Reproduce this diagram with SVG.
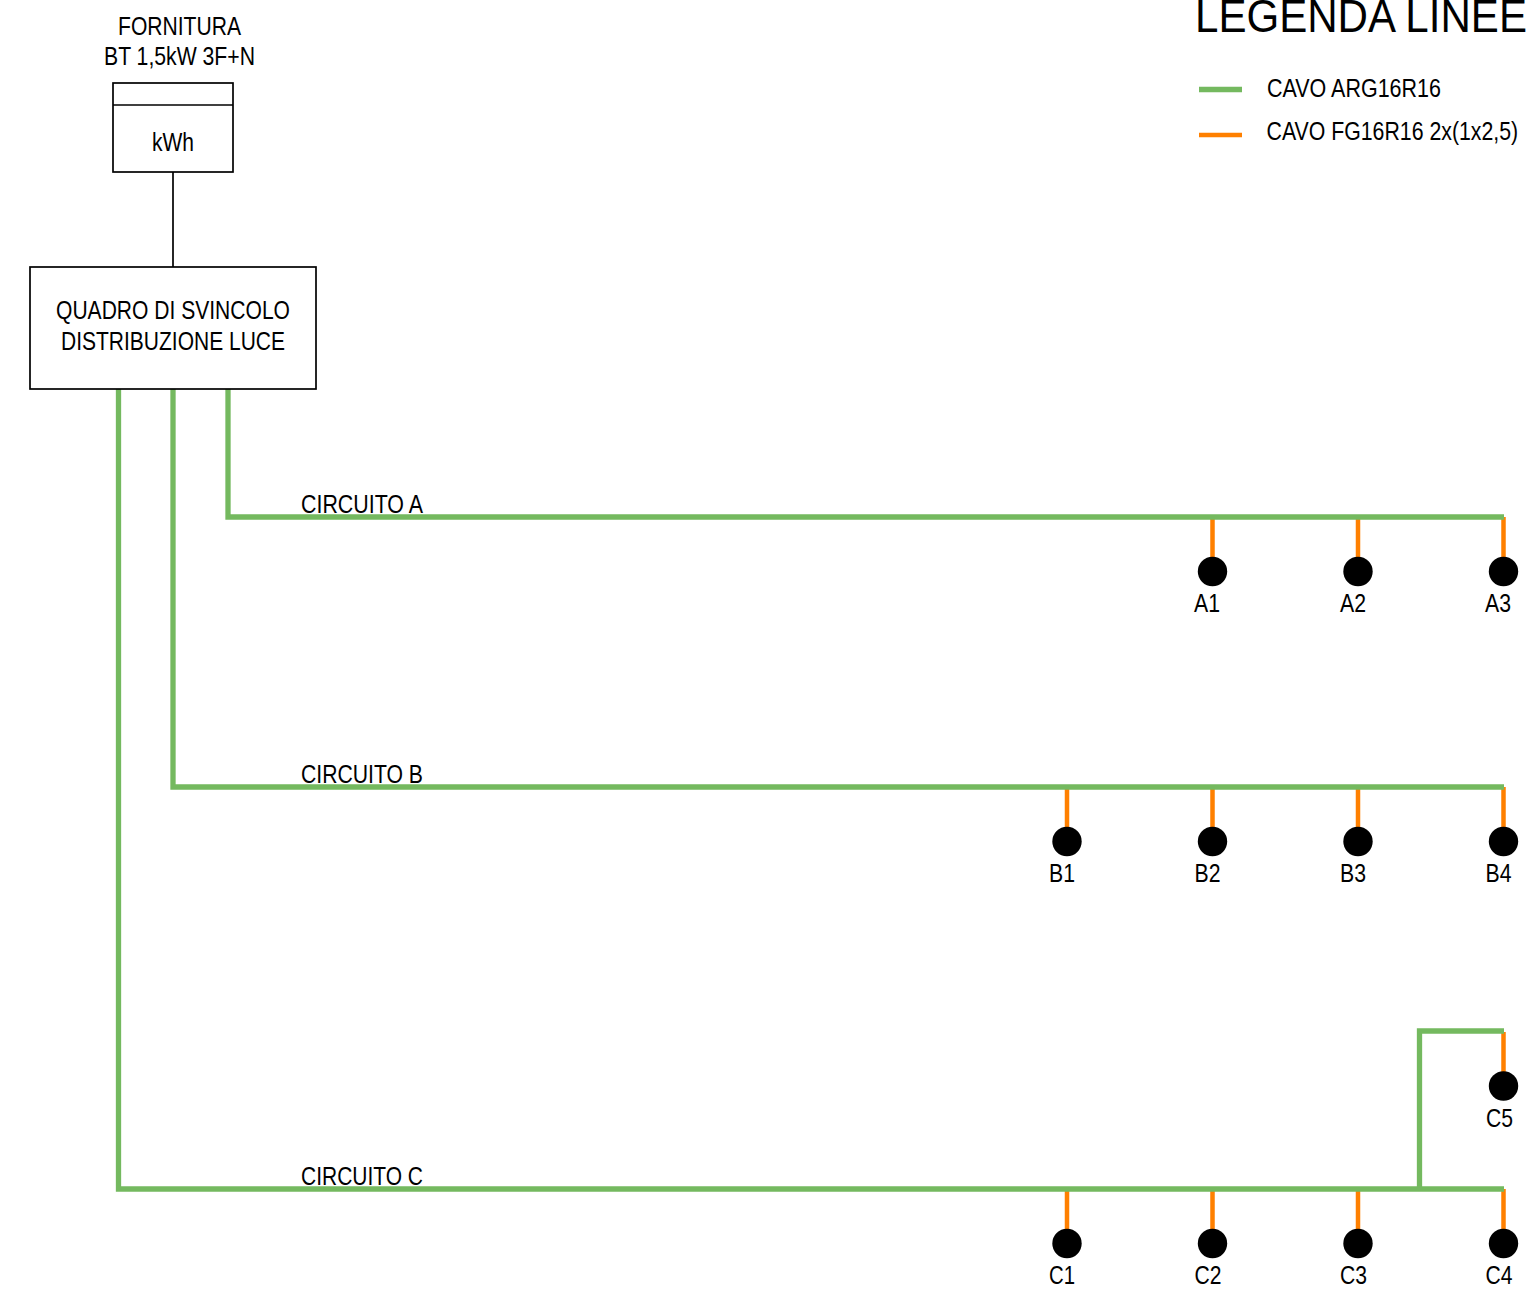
<svg xmlns="http://www.w3.org/2000/svg" width="1527" height="1304" viewBox="0 0 1527 1304">
<style>
text{font-family:"Liberation Sans",Arial,sans-serif;font-size:25px;fill:#000}
.box{fill:#fff;stroke:#000;stroke-width:1.7}
.k{fill:none;stroke:#000;stroke-width:1.7}
.g{fill:none;stroke:#74b95f;stroke-width:5.3}
.o{fill:none;stroke:#ff8000;stroke-width:4.5}
</style>
<rect width="1527" height="1304" fill="#fff"/>
<g id="connectors">
<path class="k" d="M173 172V267"/>
<path class="o" d="M1212.500 517V560M1358 517V560M1503.500 517V560M1067 787V830M1212.500 787V830M1358 787V830M1503.500 787V830M1503.500 1032V1075M1067 1189V1232M1212.500 1189V1232M1358 1189V1232M1503.500 1189V1232"/>
<path class="g" d="M228 389V517H1504"/>
<path class="g" d="M173 389V787H1504"/>
<path class="g" d="M118.500 389V1189H1504"/>
<path class="g" d="M1419.500 1189V1031H1504"/>
</g>
<g id="fornitura-label">
<text x="118" y="35" textLength="123" lengthAdjust="spacingAndGlyphs">FORNITURA</text>
<text x="104" y="65" textLength="151" lengthAdjust="spacingAndGlyphs">BT 1,5kW 3F+N</text>
</g>
<g id="contatore">
<rect class="box" x="113" y="83" width="120" height="89"/>
<path class="k" d="M113 105H233"/>
<text x="152" y="151" textLength="42" lengthAdjust="spacingAndGlyphs">kWh</text>
</g>
<g id="quadro">
<rect class="box" x="30" y="267" width="286" height="122"/>
<text x="56" y="318.500" textLength="234" lengthAdjust="spacingAndGlyphs">QUADRO DI SVINCOLO</text>
<text x="61" y="349.500" textLength="224" lengthAdjust="spacingAndGlyphs">DISTRIBUZIONE LUCE</text>
</g>
<g id="legenda">
<text transform="translate(1195 32) scale(.895 1)" style="font-size:47px">LEGENDA LINEE</text>
<path class="g" d="M1199 89.500H1242"/>
<path class="o" d="M1199 135H1242"/>
<text x="1267" y="96.500" textLength="174" lengthAdjust="spacingAndGlyphs">CAVO ARG16R16</text>
<text transform="translate(1266.500 139.500) scale(.852 1)">CAVO FG16R16 2x(1x2,5)</text>
</g>
<g id="circuito-a-label"><text x="301" y="513" textLength="122" lengthAdjust="spacingAndGlyphs">CIRCUITO A</text></g>
<g id="circuito-b-label"><text x="301" y="783" textLength="122" lengthAdjust="spacingAndGlyphs">CIRCUITO B</text></g>
<g id="circuito-c-label"><text x="301" y="1185" textLength="122" lengthAdjust="spacingAndGlyphs">CIRCUITO C</text></g>
<g id="A1"><circle cx="1212.500" cy="571.500" r="14.700"/><text x="1194" y="612" textLength="26" lengthAdjust="spacingAndGlyphs">A1</text></g>
<g id="A2"><circle cx="1358" cy="571.500" r="14.700"/><text x="1340" y="612" textLength="26" lengthAdjust="spacingAndGlyphs">A2</text></g>
<g id="A3"><circle cx="1503.500" cy="571.500" r="14.700"/><text x="1485" y="612" textLength="26" lengthAdjust="spacingAndGlyphs">A3</text></g>
<g id="B1"><circle cx="1067" cy="841.500" r="14.700"/><text x="1049" y="881.500" textLength="26" lengthAdjust="spacingAndGlyphs">B1</text></g>
<g id="B2"><circle cx="1212.500" cy="841.500" r="14.700"/><text x="1194.500" y="881.500" textLength="26" lengthAdjust="spacingAndGlyphs">B2</text></g>
<g id="B3"><circle cx="1358" cy="841.500" r="14.700"/><text x="1340" y="881.500" textLength="26" lengthAdjust="spacingAndGlyphs">B3</text></g>
<g id="B4"><circle cx="1503.500" cy="841.500" r="14.700"/><text x="1485.500" y="881.500" textLength="26" lengthAdjust="spacingAndGlyphs">B4</text></g>
<g id="C5"><circle cx="1503.500" cy="1086" r="14.700"/><text x="1486" y="1126.500" textLength="27" lengthAdjust="spacingAndGlyphs">C5</text></g>
<g id="C1"><circle cx="1067" cy="1243.500" r="14.700"/><text x="1049" y="1284" textLength="26" lengthAdjust="spacingAndGlyphs">C1</text></g>
<g id="C2"><circle cx="1212.500" cy="1243.500" r="14.700"/><text x="1194.500" y="1284" textLength="27" lengthAdjust="spacingAndGlyphs">C2</text></g>
<g id="C3"><circle cx="1358" cy="1243.500" r="14.700"/><text x="1340" y="1284" textLength="27" lengthAdjust="spacingAndGlyphs">C3</text></g>
<g id="C4"><circle cx="1503.500" cy="1243.500" r="14.700"/><text x="1485.500" y="1284" textLength="27" lengthAdjust="spacingAndGlyphs">C4</text></g>
</svg>
